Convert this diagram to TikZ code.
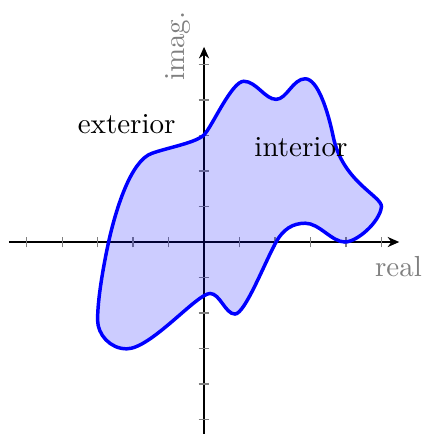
\documentclass[tikz,border=0pt]{standalone}
\usetikzlibrary{arrows.meta}
\begin{document}
\begin{tikzpicture}[x=0.43cm,y=0.43cm,
  axis/.style={-{Stealth[length=4pt,width=3.5pt]},line width=0.45pt,black},
  tickmark/.style={gray,line width=0.4pt},
  region/.style={draw=blue,very thick,fill=blue,fill opacity=0.2},
  axislabel/.style={text=gray,inner sep=0pt},
  arealabel/.style={text=black,inner sep=0pt}]
\useasboundingbox (-5.75,-5.41) rectangle (6.31,6.82);
% axes
\coordinate (xs) at (-5.5,0);
\coordinate (xe) at (5.5,0);
\coordinate (ys) at (0,-5.5);
\coordinate (ye) at (0,5.5);
\draw[axis] (xs) -- (xe);
\draw[axis] (ys) -- (ye);
\foreach \i in {-5,...,-1,1,2,...,5}{
  \draw[tickmark] (\i,-0.15) -- (\i,0.15);
  \draw[tickmark] (-0.15,\i) -- (0.15,\i);
}
% region
\draw[region] (0,3.02)
  .. controls (0.22,3.24) and (0.78,4.53) .. (1.12,4.53)
  .. controls (1.47,4.53) and (1.72,4.02) .. (2.03,4.02)
  .. controls (2.33,4.02) and (2.5,4.6) .. (2.85,4.6)
  .. controls (3.2,4.6) and (3.49,3.7) .. (3.64,2.97)
  .. controls (3.9,1.7) and (5.0,1.3) .. (5.0,1.0)
  .. controls (4.95,0.55) and (4.3,0.0) .. (3.97,0.0)
  .. controls (3.6,0.0) and (3.25,0.53) .. (2.85,0.53)
  .. controls (2.5,0.53) and (2.23,0.36) .. (2.03,0.0)
  .. controls (1.7,-0.6) and (1.15,-2.03) .. (0.87,-2.03)
  .. controls (0.6,-2.03) and (0.45,-1.45) .. (0.17,-1.45)
  .. controls (-0.2,-1.45) and (-1.5,-3.01) .. (-2.18,-3.01)
  .. controls (-2.65,-3.01) and (-3.0,-2.6) .. (-3.0,-2.2)
  .. controls (-3.0,-1.6) and (-2.84,-0.7) .. (-2.69,0.0)
  .. controls (-2.49,0.9) and (-2.07,2.29) .. (-1.47,2.5)
  .. controls (-1.02,2.66) and (-0.22,2.8) .. cycle;
% labels
\node[axislabel] (real) at (5.48,-0.68) {real};
\node[axislabel,rotate=90] (imag) at (-0.73,5.52) {imag.};
\node[arealabel] (ext) at (-2.18,3.32) {exterior};
\node[arealabel] (int) at (2.73,2.66) {interior};
\end{tikzpicture}
\end{document}
